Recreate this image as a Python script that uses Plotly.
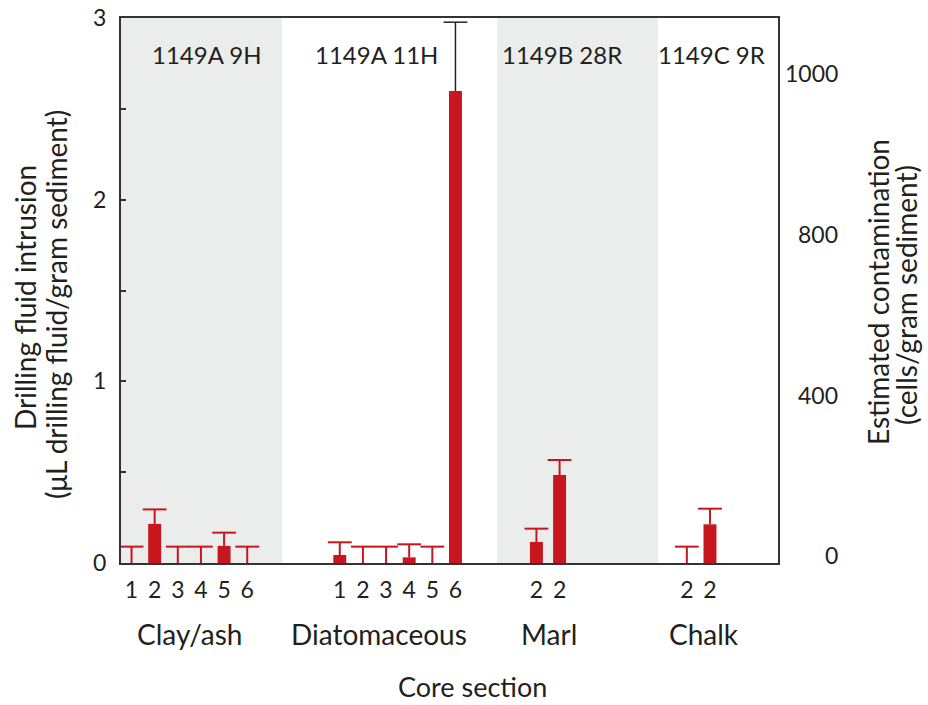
import plotly.graph_objects as go

# ---------------- data ----------------
GROUP_NAMES = ["Clay/ash", "Diatomaceous", "Marl", "Chalk"]
CORE_IDS = ["1149A 9H", "1149A 11H", "1149B 28R", "1149C 9R"]
CLAY_SECTIONS = ["1", "2", "3", "4", "5", "6"]
DIAT_SECTIONS = ["1", "2", "3", "4", "5", "6"]
MARL_SECTIONS = ["2", "2"]
CHALK_SECTIONS = ["2", "2"]

CLAY_VALUES = [0.0, 0.215, 0.0, 0.0, 0.094, 0.0]
CLAY_ERRORS = [0.09, 0.08, 0.09, 0.09, 0.073, 0.09]
DIAT_VALUES = [0.044, 0.0, 0.0, 0.031, 0.0, 2.598]
DIAT_ERRORS = [0.07, 0.09, 0.09, 0.072, 0.09, 0.379]
MARL_VALUES = [0.116, 0.484]
MARL_ERRORS = [0.073, 0.083]
CHALK_VALUES = [0.0, 0.213]
CHALK_ERRORS = [0.09, 0.086]

LEFT_TICK_VALUES = [0, 0.5, 1, 1.5, 2, 2.5, 3]
LEFT_TICK_LABELS = ["0", "", "1", "", "2", "", "3"]
# right-hand scale labels (cells/gram sediment) and where they sit on the left scale
RIGHT_TICK_LABELS = ["0", "400", "800", "1000"]
RIGHT_TICK_AT = [0.044, 0.927, 1.81, 2.70]

# ---------------- layout constants ----------------
GROUP_START = [0, 9, 17.5, 24]
GROUP_LABEL_X = [2.5, 10.7, 18.04, 24.74]
CORE_LABEL_X = [3.26, 10.6, 18.6, 25.08]
SHADED = [(-0.455, 6.5), (15.8, 22.75)]
RED = "#c8161e"
TXT = "#231f20"
FONT = "Lato"
PLOT_L, PLOT_R, PLOT_T, PLOT_B = 121, 778, 18, 563


def px_x(p):
    return (p - PLOT_L) / (PLOT_R - PLOT_L)


def px_y(p):
    return (PLOT_B - p) / (PLOT_B - PLOT_T)


sections = [CLAY_SECTIONS, DIAT_SECTIONS, MARL_SECTIONS, CHALK_SECTIONS]
values = [CLAY_VALUES, DIAT_VALUES, MARL_VALUES, CHALK_VALUES]
errors = [CLAY_ERRORS, DIAT_ERRORS, MARL_ERRORS, CHALK_ERRORS]

xs, ys, es, labels = [], [], [], []
for g, secs in enumerate(sections):
    for k, s in enumerate(secs):
        xs.append(GROUP_START[g] + k)
        ys.append(values[g][k])
        es.append(errors[g][k])
        labels.append(s)

# the largest bar carries a black error bar
big = max(range(len(ys)), key=lambda i: ys[i])
red_idx = [i for i in range(len(ys)) if i != big]

fig = go.Figure()
fig.add_trace(go.Bar(
    x=xs, y=ys, width=0.56, marker=dict(color=RED, line=dict(width=0)),
    showlegend=False, hoverinfo="skip"))


def add_errors(idx, color, thick):
    # upper-only error bars: a cap marker at the top with a stem reaching down to the bar
    fig.add_trace(go.Scatter(
        x=[xs[i] for i in idx], y=[ys[i] + es[i] for i in idx], mode="markers",
        marker=dict(symbol="line-ew", size=17, color=color, line=dict(width=thick, color=color)),
        error_y=dict(type="data", symmetric=False, array=[0] * len(idx),
                     arrayminus=[es[i] for i in idx], color=color, thickness=thick, width=0),
        showlegend=False, hoverinfo="skip"))


add_errors(red_idx, RED, 2)
add_errors([big], "#222", 1.5)

shapes = []
for x0, x1 in SHADED:
    shapes.append(dict(type="rect", xref="x", yref="y", x0=x0, x1=x1, y0=0, y1=3,
                       fillcolor="#ebecec", line=dict(width=0), layer="below"))

ann = []


def txt(text, x, y, xref="paper", yref="paper", size=28, angle=0, xanchor="center"):
    ann.append(dict(text=text, x=x, y=y, xref=xref, yref=yref, showarrow=False,
                    xanchor=xanchor, yanchor="middle", textangle=angle,
                    font=dict(size=size, color=TXT, family=FONT)))


for name, gx in zip(GROUP_NAMES, GROUP_LABEL_X):
    txt(name, gx, px_y(634), xref="x")
for cid, cx in zip(CORE_IDS, CORE_LABEL_X):
    txt(cid, cx, px_y(55), xref="x", size=24)
for lab, yv in zip(RIGHT_TICK_LABELS, RIGHT_TICK_AT):
    txt(lab, px_x(840), yv, yref="y", size=23, xanchor="right")
txt("Core section", px_x(472), px_y(686), size=27)
txt("Drilling fluid intrusion", px_x(25), px_y(298), angle=-90)
txt("(μL drilling fluid/gram sediment)", px_x(56), px_y(305), angle=-90)
txt("Estimated contamination", px_x(878), px_y(292), angle=-90)
txt("(cells/gram sediment)", px_x(906), px_y(295), angle=-90)

fig.update_layout(
    width=928, height=705,
    margin=dict(l=PLOT_L, r=928 - PLOT_R, t=PLOT_T, b=705 - PLOT_B, autoexpand=False),
    paper_bgcolor="white", plot_bgcolor="white", barmode="overlay",
    font=dict(family=FONT, color=TXT),
    shapes=shapes, annotations=ann,
    xaxis=dict(range=[-0.455, 27.94], tickmode="array", tickvals=xs, ticktext=labels,
               ticks="", showline=True, mirror=True, linecolor="#333", linewidth=2,
               showgrid=False, zeroline=False, ticklabelstandoff=5,
               tickfont=dict(size=23, color=TXT, family=FONT)),
    yaxis=dict(range=[0, 3], tickmode="array", tickvals=LEFT_TICK_VALUES,
               ticktext=LEFT_TICK_LABELS, ticks="inside", ticklen=5, tickwidth=1.5,
               tickcolor="#333", showline=True, mirror=True, linecolor="#333", linewidth=2,
               showgrid=False, zeroline=False, ticklabelstandoff=8,
               tickfont=dict(size=23, color=TXT, family=FONT)),
)
fig.write_html("out.html")
